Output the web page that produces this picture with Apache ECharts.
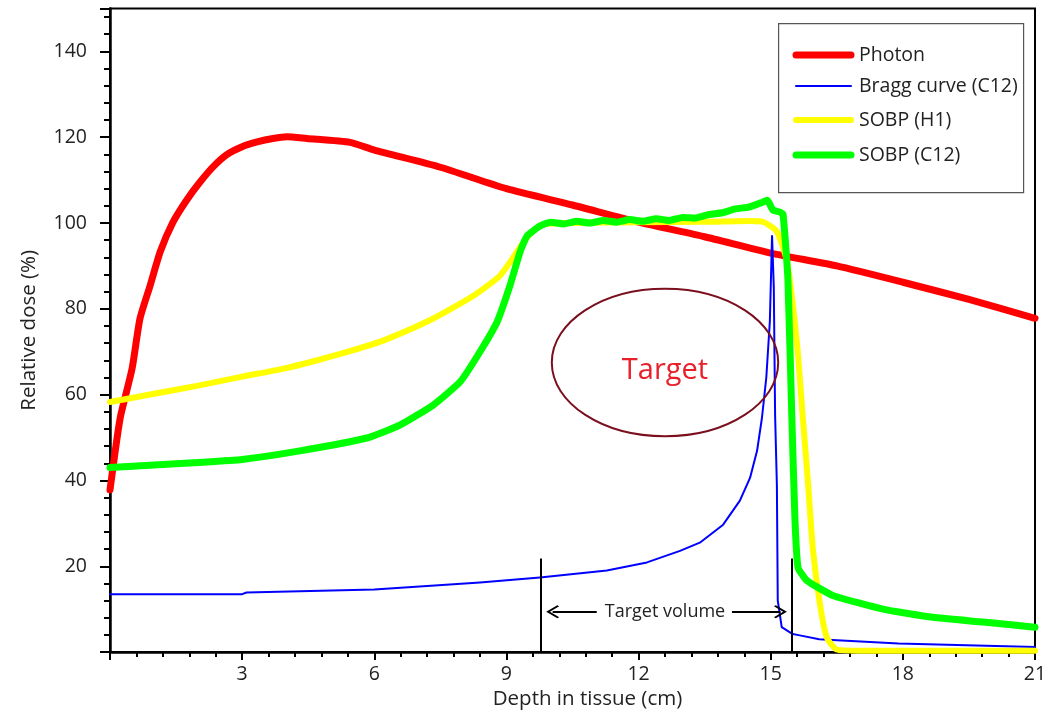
<!DOCTYPE html>
<html>
<head>
<meta charset="utf-8">
<script src="https://cdn.jsdelivr.net/npm/echarts@6/dist/echarts.min.js"></script>
<style>
  html, body { margin: 0; padding: 0; background: #fff; }
  #main { width: 1054px; height: 715px; }
</style>
</head>
<body>
<div id="main"></div>
<script>
// depth (cm), relative dose (%)
var photon = [
  [0, 37.8], [0.23, 54.5], [0.5, 66], [0.68, 77.7], [0.91, 85.4], [1.14, 93.3],
  [1.43, 100.2], [1.75, 105.5], [2.04, 109.5], [2.35, 113.2], [2.66, 116], [3, 117.8],
  [3.34, 118.9], [3.7, 119.7], [4.02, 120.1], [4.47, 119.7], [5.45, 118.8], [6, 117],
  [7.5, 113], [9, 108], [10.5, 104.2], [12, 100.2], [13.5, 96.8], [15, 93],
  [16.5, 90], [18, 86.2], [19.5, 82.2], [21, 77.8]
];
var braggC12 = [
  [0, 13.5], [3, 13.5], [3.1, 13.9], [6, 14.6], [8.4, 16.2], [9.76, 17.4],
  [11.28, 19], [12.19, 20.9], [12.94, 23.6], [13.39, 25.5], [13.92, 29.7], [14.3, 35.3],
  [14.53, 40.6], [14.69, 46.9], [14.8, 54.5], [14.9, 64], [14.98, 77], [15.03, 97],
  [15.07, 85], [15.1, 55], [15.14, 39], [15.16, 12], [15.25, 5.8], [15.5, 4.2],
  [15.66, 3.9], [16.1, 3], [16.4, 2.8], [17.9, 2], [19.45, 1.6], [21, 1.2]
];
var sobpH1 = [
  [0, 58.3], [1, 60.2], [2, 62.1], [3, 64.2], [4, 66.2], [4.77, 68.2], [5.5, 70.3],
  [6.2, 72.6], [7.33, 77.7], [8.24, 83], [8.85, 87.7], [9.24, 93.3], [9.47, 96.7],
  [9.8, 99.6], [10.5, 100], [12, 100.2], [13.5, 100.3], [14.5, 100.5], [14.82, 100.3],
  [15.14, 98], [15.37, 91], [15.6, 71.5], [15.73, 54.5], [15.85, 39], [15.96, 23.7],
  [16.12, 11], [16.27, 3.5], [16.5, 0.6], [17, 0.3], [21, 0.3]
];
var sobpC12 = [
  [0, 43], [1, 43.6], [2, 44.2], [3, 44.9], [4.31, 46.9], [5.83, 49.9], [6.58, 52.9],
  [7.33, 57.5], [7.95, 63], [8.4, 70], [8.79, 77], [9.08, 85.4], [9.31, 93.3], [9.47, 97],
  [9.76, 99.3], [10, 100.2], [10.3, 99.8], [10.6, 100.4], [10.9, 100], [11.2, 100.6],
  [11.5, 100.2], [11.8, 100.8], [12.1, 100.4], [12.4, 101], [12.7, 100.6], [13, 101.3],
  [13.3, 101.2], [13.6, 102], [13.9, 102.4], [14.2, 103.3], [14.5, 103.7], [14.8, 104.8],
  [14.92, 105.3], [15.05, 103], [15.2, 102.6], [15.28, 102], [15.39, 87], [15.48, 54.5],
  [15.55, 31], [15.62, 19.7], [15.82, 16.7], [16.41, 13.2], [17.55, 10], [18.68, 8.1],
  [19.82, 7], [21, 5.8]
];
var seriesNames = ['Photon', 'Bragg curve (C12)', 'SOBP (H1)', 'SOBP (C12)'];
var seriesColors = ['#ff0000', '#0000ff', '#ffff00', '#00ff00'];
var seriesWidths = [7, 2, 6, 7];
var targetStart = 9.78, targetEnd = 15.48;

var font = "'Open Sans', sans-serif";
var chart = echarts.init(document.getElementById('main'));

function curve(i, data, smooth) {
  return {
    name: seriesNames[i], type: 'line', data: data, symbol: 'none', clip: false,
    smooth: smooth,
    lineStyle: { color: seriesColors[i], width: seriesWidths[i], cap: 'round', join: 'round' },
    itemStyle: { color: seriesColors[i] },
    animation: false
  };
}

var chevron = 'path://M10,0 L20,10 L18.3,11.7 L10,3.4 L1.7,11.7 L0,10 Z';

var option = {
  backgroundColor: '#fff',
  grid: {
    left: 110, right: 19, top: 8.5, bottom: 60,
    show: true, borderColor: '#000', borderWidth: 2
  },
  xAxis: {
    type: 'value', min: 0, max: 21, interval: 3,
    name: 'Depth in tissue (cm)', nameLocation: 'middle', nameGap: 32,
    nameTextStyle: { fontFamily: font, fontSize: 20.5, color: '#222', padding: [0, 0, 0, 30] },
    axisLine: { lineStyle: { color: '#000', width: 2.5 } },
    axisTick: { length: 8, lineStyle: { color: '#000', width: 2 } },
    minorTick: { show: true, splitNumber: 5, length: 5, lineStyle: { color: '#000', width: 2 } },
    splitLine: { show: false },
    axisLabel: {
      margin: 12, fontFamily: font, fontSize: 19.5, color: '#222',
      formatter: function (v) { return v === 0 ? '' : v; }
    }
  },
  yAxis: {
    type: 'value', min: 0, max: 150, interval: 20,
    name: 'Relative dose (%)', nameLocation: 'middle', nameGap: 70,
    nameTextStyle: { fontFamily: font, fontSize: 20.5, color: '#222' },
    axisLine: { lineStyle: { color: '#000', width: 2.5 } },
    axisTick: { length: 10, lineStyle: { color: '#000', width: 2 } },
    minorTick: { show: true, splitNumber: 5, length: 6, lineStyle: { color: '#000', width: 2 } },
    splitLine: { show: false },
    axisLabel: {
      margin: 23, fontFamily: font, fontSize: 19.5, color: '#222',
      formatter: function (v) { return (v === 0 || v === 150) ? '' : v; }
    }
  },
  series: [
    curve(0, photon, 0.2),
    curve(1, braggC12, false),
    curve(2, sobpH1, 0.2),
    curve(3, sobpC12, 0.15),
    {
      name: 'annotations', type: 'line', data: [], silent: true, animation: false,
      markLine: {
        silent: true, animation: false,
        label: { show: false },
        lineStyle: { color: '#000', width: 2, type: 'solid' },
        symbolSize: [13, 13],
        data: [
          [{ coord: [targetStart, 0], symbol: 'none' }, { coord: [targetStart, 21.8], symbol: 'none' }],
          [{ coord: [targetEnd, 0], symbol: 'none' }, { coord: [targetEnd, 21.8], symbol: 'none' }],
          [{ coord: [11.05, 9.4], symbol: 'none' }, { coord: [10.05, 9.4], symbol: chevron }],
          [{ coord: [14.12, 9.4], symbol: 'none' }, { coord: [15.22, 9.4], symbol: chevron }]
        ]
      }
    }
  ]
};
chart.setOption(option);

// legend box drawn by hand (line samples without symbols)
var legendRowsY = [55, 86, 120, 155];
var graphics = [{
  type: 'rect', left: 778, top: 23, z: 10,
  shape: { width: 245, height: 169 },
  style: { fill: '#fff', stroke: '#555', lineWidth: 1.2 }
}];
seriesNames.forEach(function (name, i) {
  graphics.push({
    type: 'line', z: 11,
    shape: { x1: 796, y1: legendRowsY[i], x2: 851, y2: legendRowsY[i] },
    style: { stroke: seriesColors[i], lineWidth: seriesWidths[i], lineCap: 'round' }
  });
  graphics.push({
    type: 'text', x: 859, y: legendRowsY[i], z: 11,
    style: { text: name, fill: '#222', font: '19.5px ' + font, verticalAlign: 'middle' }
  });
});

// annotations placed from data coordinates
var c = chart.convertToPixel({ gridIndex: 0 }, [12.6, 67.5]);
var e = chart.convertToPixel({ gridIndex: 0 }, [12.6 + 2.57, 67.5 + 17.2]);
var tv = chart.convertToPixel({ gridIndex: 0 }, [12.6, 9.4]);
graphics.push(
  {
    type: 'ellipse', z: 10,
    shape: { cx: c[0], cy: c[1], rx: e[0] - c[0], ry: c[1] - e[1] },
    style: { fill: 'none', stroke: '#7a0f1e', lineWidth: 2 }
  },
  {
    type: 'text', x: c[0], y: c[1] + 8, z: 10,
    style: { text: 'Target', fill: '#e8202a', font: '29px ' + font, align: 'center', verticalAlign: 'middle' }
  },
  {
    type: 'text', x: tv[0], y: tv[1], z: 10,
    style: { text: 'Target volume', fill: '#222', font: '18px ' + font, align: 'center', verticalAlign: 'middle' }
  }
);
chart.setOption({ graphic: graphics });
</script>
</body>
</html>
